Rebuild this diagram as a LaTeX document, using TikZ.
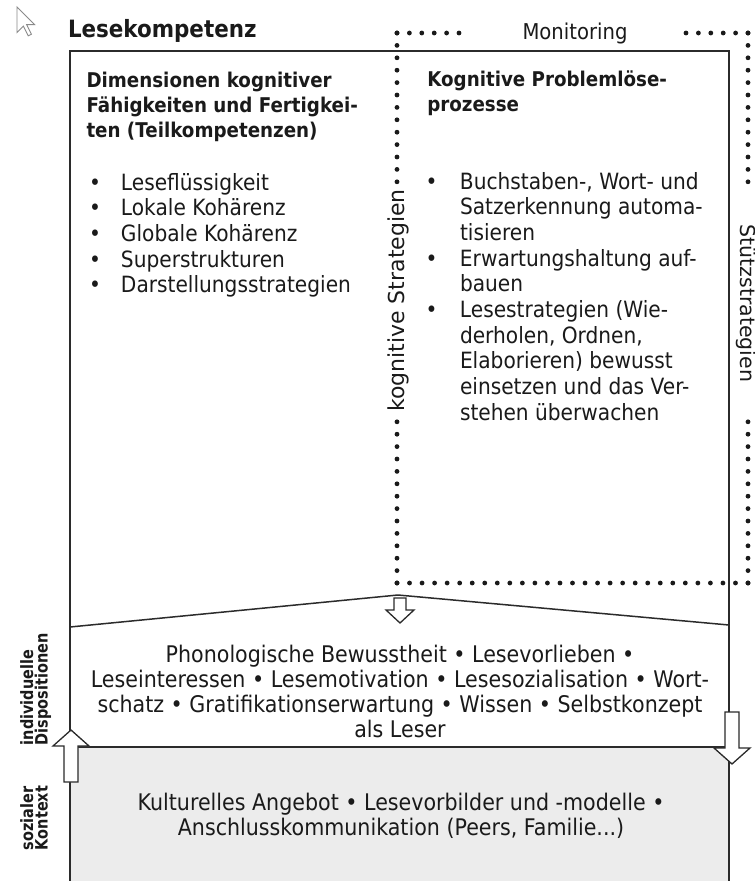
\documentclass[tikz,border=0pt]{standalone}
\usepackage{fontspec}
\setmainfont{DejaVu Sans}[FakeStretch=0.9]
\newfontfamily\sidefont{DejaVu Sans}
\newfontfamily\labelfont{DejaVu Sans}[FakeStretch=0.85]
\definecolor{ink}{HTML}{1A1A1A}
\definecolor{framec}{HTML}{2B2B2B}
\definecolor{boxgray}{HTML}{ECECEC}
\definecolor{cursorgray}{HTML}{8A8A8A}
\newcommand{\bodyfont}{\fontsize{22.4}{25.7}\selectfont}
\newcommand{\centerfont}{\fontsize{22.9}{25.3}\selectfont}
\newcommand{\headfont}{\bfseries\fontsize{20.3}{25.3}\selectfont}
\newcommand{\titlefont}{\bfseries\fontsize{23.8}{28}\selectfont}
\newcommand{\sidelabelfont}{\labelfont\bfseries\fontsize{17}{17}\selectfont}
\newcommand{\blines}[2]{\begin{tabular}[t]{@{}#1@{}}#2\end{tabular}}
\newcommand{\bul}[1]{\makebox[#1][l]{•}}
\begin{document}
\begin{tikzpicture}[x=1pt,y=-1pt,
  frame/.style={draw=framec, line width=1.8},
  blockarrow/.style={draw=framec, fill=white, line width=1.3, line join=miter},
  dotmark/.style={fill=ink},
  txt/.style={inner sep=0pt, outer sep=0pt, text=ink, font=\bodyfont},
  headtxt/.style={txt, font=\headfont},
  sidetxt/.style={inner sep=0pt, outer sep=0pt, text=ink},
  cursor/.style={draw=cursorgray, line width=0.9, fill=white, line join=miter}]
\useasboundingbox (0,0) rectangle (755,881);
\fill[white] (0,0) rectangle (755,881);

% gray social-context box
\fill[boxgray] (70,747) rectangle (729,885);

% main frame
\draw[frame] (70,885) -- (70,51) -- (729,51) -- (729,885);
\draw[frame] (70,747) -- (729,747);
% roof
\draw[frame, line width=1.5] (70,627) -- (398,595) -- (729,625);

% dotted rectangle (monitoring)
\foreach \i in {0,...,5} \fill[dotmark] ({397+12.4*\i},33) circle (2.4pt);
\foreach \i in {0,...,5} \fill[dotmark] ({748-12.4*\i},33) circle (2.4pt);
\foreach \i in {0,...,12} \fill[dotmark] (397,{33+12.4*\i}) circle (2.4pt);
\foreach \i in {0,...,13} \fill[dotmark] (397,{583-12.4*\i}) circle (2.4pt);
\foreach \i in {0,...,12} \fill[dotmark] (748,{33+12.4*\i}) circle (2.4pt);
\foreach \i in {0,...,13} \fill[dotmark] (748,{583-12.4*\i}) circle (2.4pt);
\foreach \i in {0,...,28} \fill[dotmark] ({397+12.536*\i},583) circle (2.4pt);

% block arrows
\draw[blockarrow] (394,598) -- (406,598) -- (406,610) -- (414,610) -- (400,623) -- (386,610) -- (394,610) -- cycle;
\draw[blockarrow] (64,782) -- (78,782) -- (78,746) -- (89,746) -- (71,730) -- (53,746) -- (64,746) -- cycle;
\draw[blockarrow] (725,712) -- (739,712) -- (739,748) -- (750,748) -- (732,764) -- (714,748) -- (725,748) -- cycle;

% cursor
\draw[cursor] (17,7) -- (17,32.6) -- (23.4,26.2) -- (28.2,35.8) -- (31.4,34.2) -- (26.6,24.6) -- (34.6,24.6) -- cycle;

% texts
\node[txt, font=\titlefont, anchor=base west] (title) at (68,37) {Lesekompetenz};
\node[txt, anchor=base, font=\fontsize{21.8}{25}\selectfont] (monitoring) at (575,39) {Monitoring};

\node[headtxt, anchor=base west] (headL) at (86.5,87)
  {\blines{l}{Dimensionen kognitiver\\Fähigkeiten und Fertigkei-\\ten (Teilkompetenzen)}};
\node[headtxt, anchor=base west] (headR) at (427.3,86)
  {\blines{l}{Kognitive Problemlöse-\\prozesse}};

\node[txt, anchor=base west] (listL) at (89,190)
  {\blines{l}{\bul{32pt}Leseflüssigkeit\\\bul{32pt}Lokale Kohärenz\\\bul{32pt}Globale Kohärenz\\\bul{32pt}Superstrukturen\\\bul{32pt}Darstellungsstrategien}};

\node[txt, anchor=base west] (listR) at (425.7,189)
  {\blines{l}{\bul{34.3pt}Buchstaben-, Wort- und\\\hspace*{34.3pt}Satzerkennung automa-\\\hspace*{34.3pt}tisieren\\\bul{34.3pt}Erwartungshaltung auf-\\\hspace*{34.3pt}bauen\\\bul{34.3pt}Lesestrategien (Wie-\\\hspace*{34.3pt}derholen, Ordnen,\\\hspace*{34.3pt}Elaborieren) bewusst\\\hspace*{34.3pt}einsetzen und das Ver-\\\hspace*{34.3pt}stehen überwachen}};

\node[sidetxt, rotate=90, anchor=base, font=\sidefont\fontsize{22}{26}\selectfont] (kogstrat) at (404,300.5) {kognitive Strategien};
\node[sidetxt, rotate=-90, anchor=base, font=\sidefont\fontsize{20.5}{24}\selectfont] (stuetz) at (740.5,303.5) {Stützstrategien};

\node[txt, anchor=base, font=\centerfont] (dispo) at (400,662)
  {\blines{c}{Phonologische Bewusstheit • Lesevorlieben •\\Leseinteressen • Lesemotivation • Lesesozialisation • Wort-\\schatz • Gratifikationserwartung • Wissen • Selbstkonzept\\als Leser}};

\node[txt, anchor=base, font=\centerfont] (kontext) at (401,810)
  {\blines{c}{Kulturelles Angebot • Lesevorbilder und -modelle •\\Anschlusskommunikation (Peers, Familie...)}};

\node[sidetxt, rotate=90, anchor=base west, font=\sidelabelfont] (ind1) at (33,745) {individuelle};
\node[sidetxt, rotate=90, anchor=base west, font=\sidelabelfont] (ind2) at (47.5,745) {Dispositionen};
\node[sidetxt, rotate=90, anchor=base west, font=\sidelabelfont] (soz1) at (33,850) {sozialer};
\node[sidetxt, rotate=90, anchor=base west, font=\sidelabelfont] (soz2) at (47.5,850) {Kontext};
\end{tikzpicture}
\end{document}
